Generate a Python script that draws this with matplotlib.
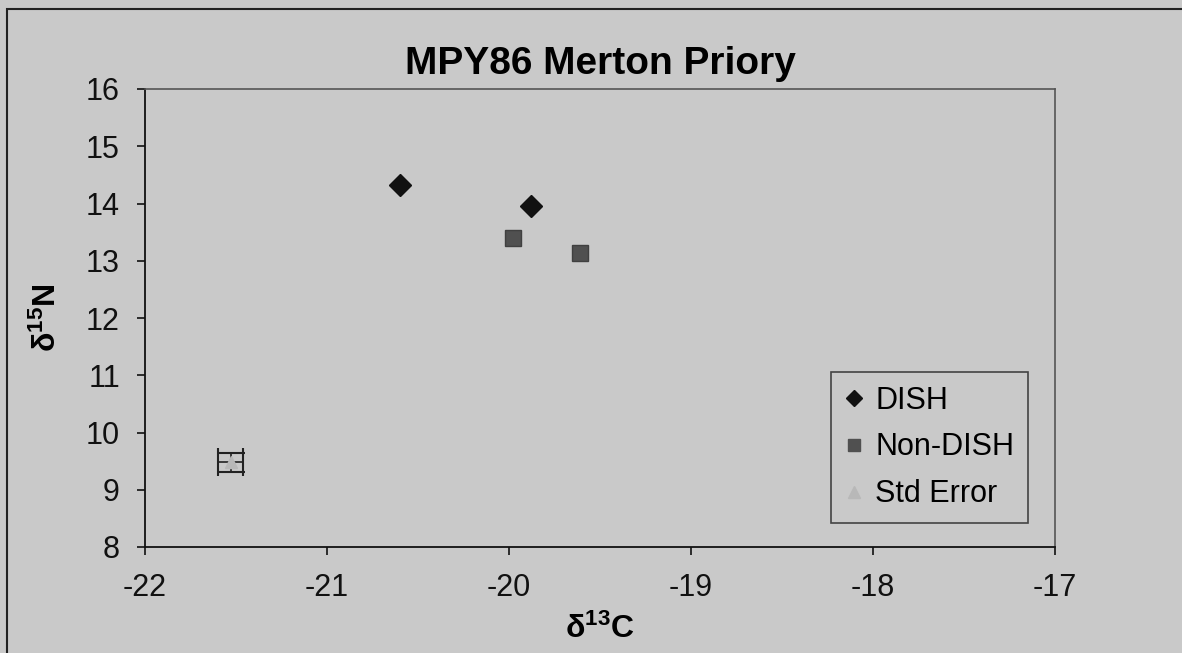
import matplotlib
matplotlib.use("Agg")
import matplotlib.pyplot as plt
from matplotlib import rcParams
from matplotlib.patches import Rectangle
from matplotlib.lines import Line2D

rcParams['font.family'] = ['Liberation Sans', 'DejaVu Sans']
rcParams['mathtext.fontset'] = 'custom'
rcParams['mathtext.rm'] = 'Liberation Sans'
rcParams['mathtext.bf'] = 'Liberation Sans:bold'

# data
dish_c = [-20.60, -19.88]
dish_n = [14.32, 13.96]
nondish_c = [-19.98, -19.61]
nondish_n = [13.40, 13.14]
se_c = [-21.53]
se_n = [9.48]
se_xerr = [0.07]
se_yerr = [0.17]

xticks = [-22, -21, -20, -19, -18, -17]
yticks = [8, 9, 10, 11, 12, 13, 14, 15, 16]

bg = '#c9c9c9'

fig = plt.figure(figsize=(11.82, 6.53), dpi=100, facecolor=bg)
# outer chart border (right and bottom edges run off the page)
fig.patches.append(Rectangle((7/1182, -0.05), 1.2, 1.05 - 9/653,
                             transform=fig.transFigure, fill=False,
                             edgecolor='#222222', linewidth=1.5))

ax = fig.add_axes([145/1182, 1-547/653, 910/1182, 458/653], facecolor=bg)

ax.errorbar(se_c, se_n, xerr=se_xerr, yerr=se_yerr, fmt='^', color='#b8b8b8',
            ecolor='#222222', elinewidth=1.2, capsize=10, capthick=1.5,
            markersize=8, zorder=2)
ax.plot(dish_c, dish_n, 'D', color='#111111', markersize=11, linestyle='none',
        zorder=3)
ax.plot(nondish_c, nondish_n, 's', color='#505050', markeredgecolor='#404040',
        markersize=11, linestyle='none', zorder=3)

ax.set_xlim(-22, -17)
ax.set_ylim(8, 16)
ax.set_xticks(xticks)
ax.set_yticks(yticks)
ax.set_xticklabels([str(t) for t in xticks])
ax.set_yticklabels([str(t) for t in yticks])
ax.tick_params(axis='both', labelsize=22, direction='out', length=6, width=1.2,
               colors='#111111')
ax.tick_params(axis='x', pad=13)
ax.tick_params(axis='y', pad=12)

for s in ['left', 'bottom']:
    ax.spines[s].set_color('#111111')
    ax.spines[s].set_linewidth(1.3)
for s in ['top', 'right']:
    ax.spines[s].set_color('#555555')
    ax.spines[s].set_linewidth(1.2)
    ax.spines[s].set_linestyle((0, (1, 1)))

ax.set_title('MPY86 Merton Priory', fontsize=28, fontweight='bold', pad=11)
ax.set_xlabel(r'$\mathbf{δ^{13}C}$', fontsize=23)
ax.set_ylabel(r'$\mathbf{δ^{15}N}$', fontsize=23)
ax.xaxis.set_label_coords(0.5, -0.145)
ax.yaxis.set_label_coords(-0.09, 0.5)

handles = [
    Line2D([], [], marker='D', color='#111111', linestyle='none', markersize=8),
    Line2D([], [], marker='s', color='#505050', linestyle='none', markersize=8),
    Line2D([], [], marker='^', color='#b8b8b8', linestyle='none', markersize=8),
]
labels = ['DISH', 'Non-DISH', 'Std Error']
leg = ax.legend(handles, labels, loc='lower right',
                bbox_to_anchor=((1028-145)/910, (547-523)/458), fontsize=22,
                frameon=True, fancybox=False, facecolor=bg, edgecolor='#222222',
                handlelength=0.6, handletextpad=0.4, labelspacing=0.55,
                borderpad=0.45, borderaxespad=0)
leg.get_frame().set_linewidth(1.2)

fig.savefig('out.png', dpi=100, facecolor=bg)
